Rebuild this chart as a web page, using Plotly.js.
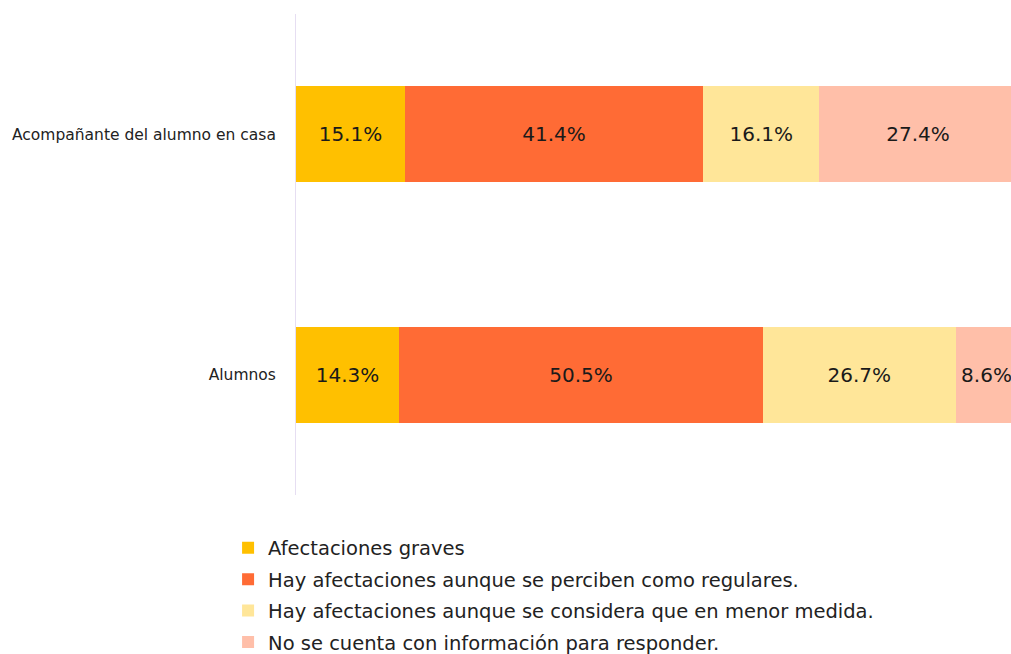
<!DOCTYPE html>
<html>
<head>
<meta charset="utf-8">
<script src="https://cdn.plot.ly/plotly-3.0.1.min.js"></script>
<style>html,body{margin:0;padding:0;background:#fff;}#chart{width:1011px;height:654px;}</style>
</head>
<body>
<div id="chart"></div>
<script>
const categories = ['Alumnos', 'Acompañante del alumno en casa'];
const seriesNames = [
  'Afectaciones graves',
  'Hay afectaciones aunque se perciben como regulares.',
  'Hay afectaciones aunque se considera que en menor medida.',
  'No se cuenta con información para responder.'
];
const graves = [14.3, 15.1];
const regulares = [50.5, 41.4];
const menor = [26.7, 16.1];
const sinInfo = [8.6, 27.4];
const colors = ['#FFC000', '#FF6B35', '#FFE699', '#FFBFA9'];

const values = [graves, regulares, menor, sinInfo];
const font = "'DejaVu Sans', sans-serif";

const traces = values.map((v, i) => ({
  type: 'bar',
  orientation: 'h',
  name: seriesNames[i],
  y: categories,
  x: v,
  width: 0.4,
  marker: {color: colors[i], line: {width: 0}},
  text: v.map(d => d.toFixed(1) + '%'),
  textposition: 'inside',
  insidetextanchor: 'middle',
  textfont: {size: 20, color: '#1a1a1a', family: font},
  constraintext: 'none',
  hoverinfo: 'skip',
  legendgroup: 'g' + i
}));

const layout = {
  width: 1011, height: 654,
  barmode: 'stack',
  paper_bgcolor: '#fff', plot_bgcolor: '#fff',
  font: {family: font, color: '#222'},
  margin: {l: 296, r: 0, t: 14, b: 159, autoexpand: false},
  xaxis: {range: [0, 99.2], showgrid: false, zeroline: false, showticklabels: false, showline: false},
  yaxis: {
    showline: true, linecolor: '#e6def2', linewidth: 1,
    showgrid: false, zeroline: false,
    ticks: '', ticklabelstandoff: 16,
    tickfont: {size: 15.5, color: '#222', family: font}
  },
  showlegend: true,
  legend: {
    orientation: 'v', x: -0.095, xanchor: 'left', y: -0.07, yanchor: 'top',
    font: {size: 19.5, color: '#222', family: font},
    traceorder: 'grouped', tracegroupgap: 3,
    itemwidth: 30
  }
};

Plotly.newPlot('chart', traces, layout, {displayModeBar: false, staticPlot: true});
</script>
</body>
</html>
